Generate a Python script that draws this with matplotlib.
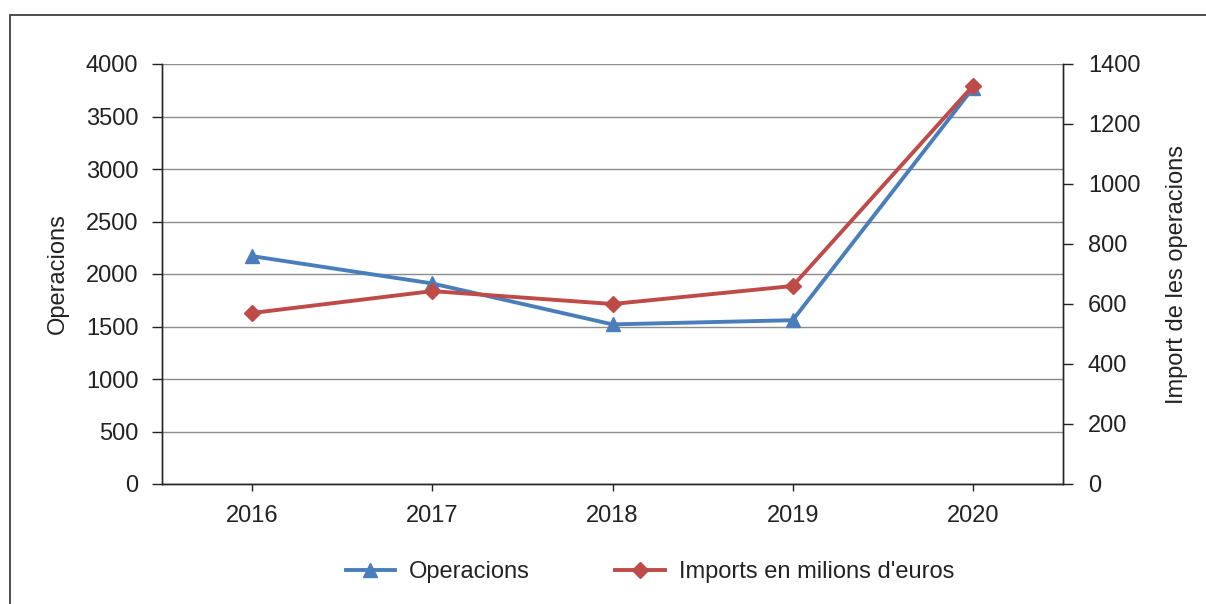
import numpy as np
import matplotlib
matplotlib.use('Agg')
import matplotlib.pyplot as plt
from matplotlib.patches import Rectangle

## chart data
years       = ['2016', '2017', '2018', '2019', '2020']
operacions  = [2170, 1910, 1520, 1560, 3770]
imports_eur = [570, 643, 600, 660, 1327]

blue = '#4A7EBB'
red  = '#BE4B48'

plt.rcParams['font.family'] = ['Liberation Sans', 'DejaVu Sans']

fig = plt.figure(figsize=(12.06, 6.04), dpi=100)
W, H = 1206.0, 604.0
ax1 = fig.add_axes([162/W, 1 - 484/H, (1063-162)/W, (484-64)/H])
ax2 = ax1.twinx()

# outer chart frame (cut at right and bottom edges)
fig.patches.append(Rectangle((10/W, -0.05), 1.2, 1 - 15/H + 0.05,
                             transform=fig.transFigure, fill=False,
                             edgecolor='#404040', lw=1.3, clip_on=False))

x = np.arange(len(years))
ax1.set_xlim(-0.5, len(years) - 0.5)
ax1.set_ylim(0, 4000)
ax1.set_yticks(np.arange(0, 4001, 500))
ax2.set_ylim(0, 1400)
ax2.set_yticks(np.arange(0, 1401, 200))
ax1.set_xticks(x)
ax1.set_xticklabels(years)

ax1.grid(axis='y', color='#8c8c8c', lw=1.0)
ax1.set_axisbelow(True)

l1, = ax1.plot(x, operacions, color=blue, lw=2.8, marker='^', ms=10,
               label='Operacions', zorder=3)
l2, = ax2.plot(x, imports_eur, color=red, lw=2.8, marker='D', ms=8,
               label="Imports en milions d'euros", zorder=3)

fs = 17
for a in (ax1, ax2):
    a.spines['top'].set_visible(False)
    for s in ('left', 'right', 'bottom'):
        a.spines[s].set_color('#262626')
        a.spines[s].set_linewidth(1.0)
    a.tick_params(labelsize=fs, colors='#222222', width=1.0)
ax1.tick_params(axis='y', length=7, pad=10)
ax2.tick_params(axis='y', length=7, pad=11)
ax1.tick_params(axis='x', length=5, pad=10)

ax1.set_ylabel('Operacions', fontsize=fs, labelpad=12, color='#222222')
ax2.set_ylabel('Import de les operacions', fontsize=fs, labelpad=18,
               color='#222222')

fig.legend(handles=[l1, l2], loc='center', bbox_to_anchor=(650/W, 1 - 572/H),
           ncol=2, frameon=False, fontsize=fs, handlelength=2.1,
           columnspacing=3.6, handletextpad=0.6, labelcolor='#222222')

fig.savefig('out.png', dpi=100)
